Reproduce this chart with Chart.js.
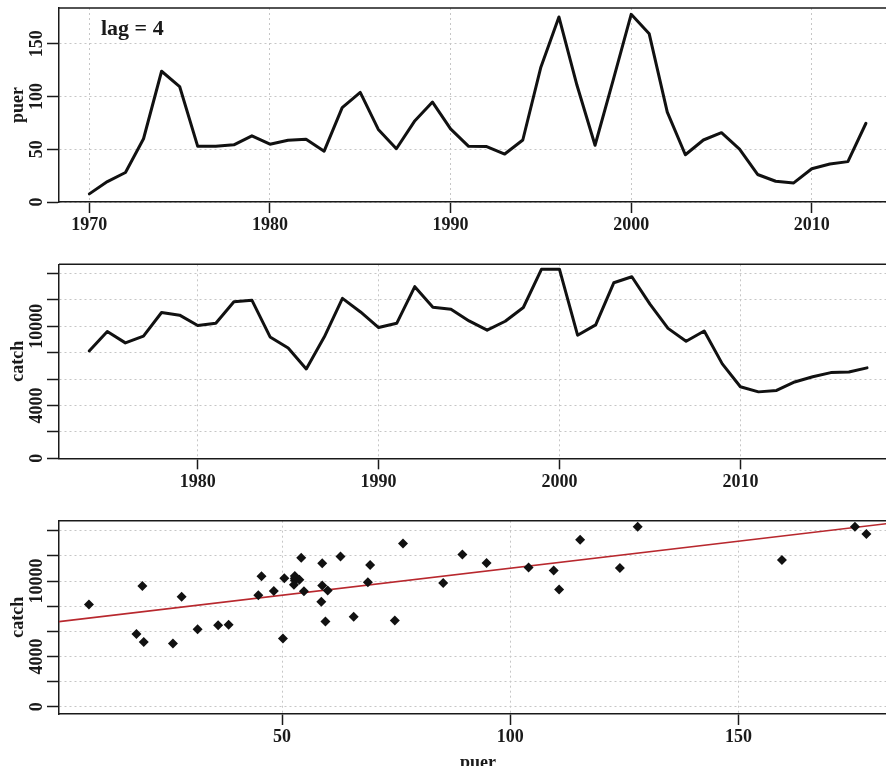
<!DOCTYPE html>
<html>
<head>
<meta charset="utf-8">
<script src="https://cdn.jsdelivr.net/npm/chart.js@4.4.1/dist/chart.umd.min.js"></script>
<style>
  html, body { margin: 0; padding: 0; background: #fff; overflow: hidden; }
  #wrap { position: relative; width: 886px; height: 766px; overflow: hidden; }
  canvas { position: absolute; left: 0; }
</style>
</head>
<body>
<div id="wrap">
  <canvas id="puerChart" width="886" height="245" style="top:0"></canvas>
  <canvas id="catchChart" width="886" height="250" style="top:245px"></canvas>
  <canvas id="scatterChart" width="886" height="271" style="top:495px"></canvas>
</div>
<script>
// puer index, 1970-2013
const puerYears = [1970, 1971, 1972, 1973, 1974, 1975, 1976, 1977, 1978, 1979,
    1980, 1981, 1982, 1983, 1984, 1985, 1986, 1987, 1988, 1989,
    1990, 1991, 1992, 1993, 1994, 1995, 1996, 1997, 1998, 1999,
    2000, 2001, 2002, 2003, 2004, 2005, 2006, 2007, 2008, 2009,
    2010, 2011, 2012, 2013];
const puerValues = [7.7, 19.4, 28, 60, 124, 109.5, 52.8, 52.8, 54.2, 62.8,
    54.8, 58.6, 59.5, 48.2, 89.5, 104, 68.8, 50.5, 76.5, 94.8,
    69.3, 52.8, 52.6, 45.5, 58.8, 127.9, 175.5, 110.7, 53.8, 115.3,
    178, 159.5, 85.3, 44.8, 58.8, 65.7, 50.2, 26.1, 19.7, 18.1,
    31.5, 36, 38.3, 74.7];

// catch, 1974-2017 (lag = 4)
const catchYears = [1974, 1975, 1976, 1977, 1978, 1979, 1980, 1981, 1982, 1983,
    1984, 1985, 1986, 1987, 1988, 1989, 1990, 1991, 1992, 1993,
    1994, 1995, 1996, 1997, 1998, 1999, 2000, 2001, 2002, 2003,
    2004, 2005, 2006, 2007, 2008, 2009, 2010, 2011, 2012, 2013,
    2014, 2015, 2016, 2017];
const catchValues = [8130, 9600, 8740, 9250, 11040, 10840, 10060, 10220, 11855, 11960,
    9190, 8350, 6770, 9200, 12110, 11080, 9900, 10220, 12995, 11440,
    11280, 10400, 9700, 10380, 11420, 14310, 14310, 9320, 10100, 13290,
    13750, 11670, 9840, 8860, 9640, 7150, 5420, 5030, 5140, 5780,
    6170, 6490, 6530, 6850];

// axis ticks
const puerYearTicks = [1970, 1980, 1990, 2000, 2010];
const catchYearTicks = [1980, 1990, 2000, 2010];
const puerTicks = [0, 50, 100, 150];
const catchTicks = [0, 2000, 4000, 6000, 8000, 10000, 12000, 14000];
const catchTickLabels = [0, 4000, 10000];
const scatterXTicks = [50, 100, 150];

const SERIF = "'Liberation Serif', 'DejaVu Serif', serif";
const INK = '#1a1a1a';
const GRID = '#c6c6c6';

// box top edge, rotated y labels, titles
const decor = {
    id: 'decor',
    afterDraw(chart, args, opts) {
        const { ctx, chartArea: a } = chart;
        const ys = chart.scales.y;
        ctx.save();
        ctx.strokeStyle = INK;
        ctx.lineWidth = 1.5;
        ctx.beginPath();
        ctx.moveTo(a.left, a.top);
        ctx.lineTo(a.right, a.top);
        ctx.stroke();

        ctx.fillStyle = INK;
        ctx.font = `bold 18px ${SERIF}`;
        ctx.textAlign = 'center';
        ctx.textBaseline = 'alphabetic';
        opts.yLabels.forEach(v => {
            ctx.save();
            ctx.translate(42, ys.getPixelForValue(v));
            ctx.rotate(-Math.PI / 2);
            ctx.fillText(String(v), 0, 0);
            ctx.restore();
        });
        ctx.save();
        ctx.translate(23, (a.top + a.bottom) / 2);
        ctx.rotate(-Math.PI / 2);
        ctx.fillText(opts.yTitle, 0, 0);
        ctx.restore();

        if (opts.xTitle) {
            ctx.fillText(opts.xTitle, 478, 273);
        }
        if (opts.note) {
            ctx.font = `bold 22px ${SERIF}`;
            ctx.textAlign = 'left';
            ctx.fillText(opts.note, 101, 35);
        }
        ctx.restore();
    }
};

function buildOptions(o) {
    const tickFont = { family: SERIF, size: 18, weight: 'bold' };
    return {
        responsive: false,
        animation: false,
        layout: { autoPadding: false, padding: { top: o.padTop, right: 0, bottom: 0, left: 0 } },
        plugins: {
            legend: { display: false },
            tooltip: { enabled: false },
            decor: { yLabels: o.yLabels, yTitle: o.yTitle, xTitle: o.xTitle, note: o.note }
        },
        scales: {
            x: {
                type: 'linear',
                min: o.xMin,
                max: o.xMax,
                afterBuildTicks: s => { s.ticks = o.xTicks.map(v => ({ value: v })); },
                afterFit: s => { s.height = o.xAxisHeight; },
                grid: { color: GRID, lineWidth: 1, tickLength: 11, tickColor: INK, tickWidth: 1.5 },
                border: { display: true, color: INK, width: 1.5, dash: [2, 3] },
                ticks: { color: INK, font: tickFont, padding: 2, maxRotation: 0, autoSkip: false, callback: v => String(v) }
            },
            y: {
                type: 'linear',
                min: o.yMin,
                max: o.yMax,
                afterBuildTicks: s => { s.ticks = o.yTicks.map(v => ({ value: v })); },
                afterFit: s => { s.width = 59; },
                grid: { color: GRID, lineWidth: 1, tickLength: 12, tickColor: INK, tickWidth: 1.5 },
                border: { display: true, color: INK, width: 1.5, dash: [2, 3] },
                ticks: { display: false }
            }
        }
    };
}

function seriesLine(xs, ys) {
    return {
        data: xs.map((x, i) => ({ x: x, y: ys[i] })),
        showLine: true,
        borderColor: '#111111',
        borderWidth: 3,
        borderJoinStyle: 'round',
        borderCapStyle: 'round',
        pointRadius: 0,
        tension: 0
    };
}

// ============================================
// 1. puer time series
// ============================================
new Chart(document.getElementById('puerChart'), {
    type: 'scatter',
    data: { datasets: [seriesLine(puerYears, puerValues)] },
    options: buildOptions({
        padTop: 8, xAxisHeight: 43,
        xMin: 1968.32, xMax: 2014.11, xTicks: puerYearTicks,
        yMin: 0, yMax: 184, yTicks: puerTicks, yLabels: puerTicks,
        yTitle: 'puer', note: 'lag = 4'
    }),
    plugins: [decor]
});

// ============================================
// 2. catch time series
// ============================================
new Chart(document.getElementById('catchChart'), {
    type: 'scatter',
    data: { datasets: [seriesLine(catchYears, catchValues)] },
    options: buildOptions({
        padTop: 19.3, xAxisHeight: 36.7,
        xMin: 1972.33, xMax: 2018.05, xTicks: catchYearTicks,
        yMin: 0, yMax: 14690, yTicks: catchTicks, yLabels: catchTickLabels,
        yTitle: 'catch'
    }),
    plugins: [decor]
});

// ============================================
// 3. catch vs puer with least-squares line
// ============================================
const n = puerValues.length;
const meanX = puerValues.reduce((s, v) => s + v, 0) / n;
const meanY = catchValues.reduce((s, v) => s + v, 0) / n;
let sxy = 0, sxx = 0;
puerValues.forEach((x, i) => {
    sxy += (x - meanX) * (catchValues[i] - meanY);
    sxx += (x - meanX) * (x - meanX);
});
const slope = sxy / sxx;
const intercept = meanY - slope * meanX;
const SX_MIN = 1.14, SX_MAX = 182.3;

new Chart(document.getElementById('scatterChart'), {
    type: 'scatter',
    data: {
        datasets: [
            {
                data: puerValues.map((p, i) => ({ x: p, y: catchValues[i] })),
                pointStyle: 'rectRot',
                pointRadius: 5,
                backgroundColor: '#111111',
                borderWidth: 0
            },
            {
                data: [SX_MIN - 5, SX_MAX + 5].map(x => ({ x: x, y: intercept + slope * x })),
                showLine: true,
                borderColor: '#b8282e',
                borderWidth: 1.6,
                pointRadius: 0
            }
        ]
    },
    options: buildOptions({
        padTop: 25.7, xAxisHeight: 52,
        xMin: SX_MIN, xMax: SX_MAX, xTicks: scatterXTicks,
        yMin: -580, yMax: 14800, yTicks: catchTicks, yLabels: catchTickLabels,
        yTitle: 'catch', xTitle: 'puer'
    }),
    plugins: [decor]
});
</script>
</body>
</html>
